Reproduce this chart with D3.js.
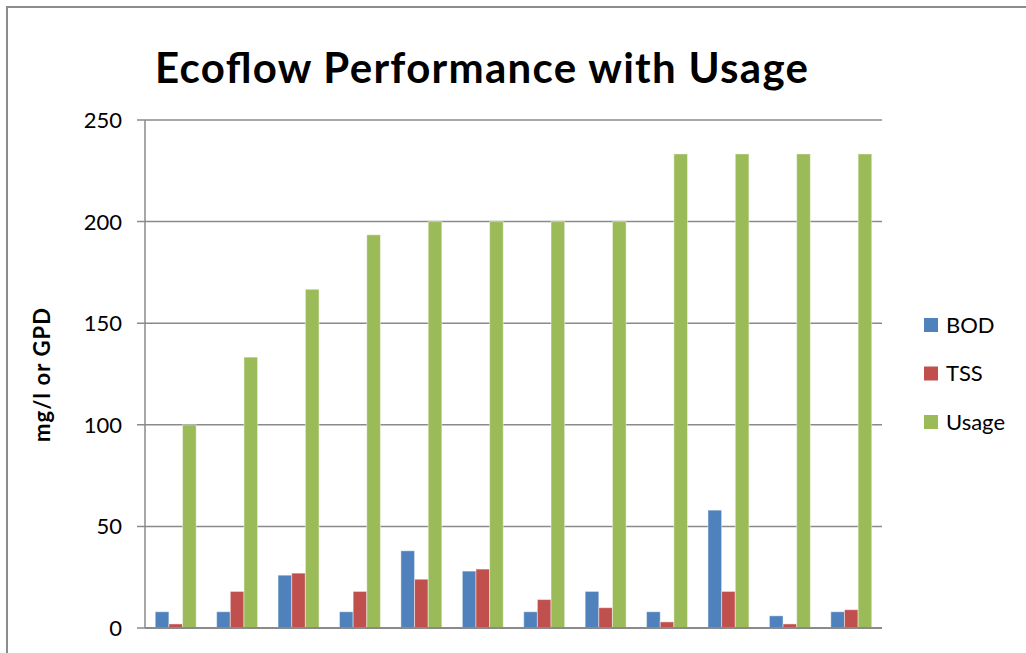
<!DOCTYPE html>
<html>
<head>
<meta charset="utf-8">
<script src="https://cdn.jsdelivr.net/npm/d3@7"></script>
<style>
  body { margin: 0; background: #fff; }
  svg { display: block; }
</style>
</head>
<body>
<div id="chart"></div>
<script>
// values
const categories = ['1', '2', '3', '4', '5', '6', '7', '8', '9', '10', '11', '12'];
const seriesNames = ['BOD', 'TSS', 'Usage'];
const bod = [8, 8, 26, 8, 38, 28, 8, 18, 8, 58, 6, 8];
const tss = [2, 18, 27, 18, 24, 29, 14, 10, 3, 18, 2, 9];
const usage = [100, 133.3, 166.7, 193.5, 200, 200, 200, 200, 233.3, 233.3, 233.3, 233.3];
const yTicks = [0, 50, 100, 150, 200, 250];
const colors = ['#4F81BD', '#C0504D', '#9BBB59'];

const width = 1026;
const height = 653;
const margin = { top: 120, right: 144, bottom: 25, left: 145 };
const font = 'Lato, "Open Sans", sans-serif';

const svg = d3.select('#chart').append('svg')
  .attr('width', width)
  .attr('height', height);

// chart area border (bottom and right run off the picture)
svg.append('path')
  .attr('d', `M7,${height + 2} L7,7 L${width + 2},7`)
  .attr('fill', 'none')
  .attr('stroke', '#8c8c8c')
  .attr('stroke-width', 2);

const x = d3.scaleBand()
  .domain(categories)
  .range([margin.left, width - margin.right]);

const y = d3.scaleLinear()
  .domain([0, 250])
  .range([height - margin.bottom, margin.top]);

// gridlines
svg.append('g')
  .selectAll('line')
  .data(yTicks)
  .join('line')
  .attr('x1', margin.left - 8)
  .attr('x2', width - margin.right)
  .attr('y1', d => y(d))
  .attr('y2', d => y(d))
  .attr('stroke', '#8a8a8a')
  .attr('stroke-width', 1.5);

// y axis line
svg.append('line')
  .attr('x1', margin.left).attr('x2', margin.left)
  .attr('y1', y(250)).attr('y2', y(0))
  .attr('stroke', '#8a8a8a')
  .attr('stroke-width', 1.5);

svg.append('g')
  .selectAll('text')
  .data(yTicks)
  .join('text')
  .attr('x', 122)
  .attr('y', d => y(d))
  .attr('dy', '0.36em')
  .attr('text-anchor', 'end')
  .attr('font-family', font)
  .attr('font-size', 22)
  .attr('fill', '#000')
  .text(d => d);

// bars: three per category, 150% gap width
const rows = categories.map((c, i) => ({ cat: c, vals: [bod[i], tss[i], usage[i]] }));
const barW = x.bandwidth() / 4.5;

const groups = svg.append('g')
  .selectAll('g')
  .data(rows)
  .join('g')
  .attr('transform', d => `translate(${x(d.cat) + barW * 0.75},0)`);

groups.selectAll('rect')
  .data(d => d.vals.map((v, k) => ({ v, k })))
  .join('rect')
  .attr('x', d => d.k * barW)
  .attr('width', barW)
  .attr('y', d => y(d.v))
  .attr('height', d => y(0) - y(d.v))
  .attr('fill', d => colors[d.k])
  .attr('stroke', 'rgba(255,255,255,0.45)')
  .attr('stroke-width', 1);

// bottom axis line over bars
svg.append('line')
  .attr('x1', margin.left).attr('x2', width - margin.right)
  .attr('y1', y(0)).attr('y2', y(0))
  .attr('stroke', '#8a8a8a')
  .attr('stroke-width', 2);

// title
svg.append('text')
  .attr('x', 155)
  .attr('y', 83)
  .attr('font-family', font)
  .attr('font-weight', 'bold')
  .attr('font-size', 42)
  .attr('textLength', 653)
  .attr('fill', '#000')
  .text('Ecoflow Performance with Usage');

// y axis title
svg.append('text')
  .attr('transform', `translate(42,442) rotate(-90)`)
  .attr('dy', '0.35em')
  .attr('font-family', font)
  .attr('font-weight', 'bold')
  .attr('font-size', 22)
  .attr('textLength', 134)
  .attr('fill', '#000')
  .text('mg/l or GPD');

// legend
const legend = svg.append('g')
  .selectAll('g')
  .data(seriesNames)
  .join('g')
  .attr('transform', (d, i) => `translate(924,${325 + i * 48.5})`);

legend.append('rect')
  .attr('x', 0)
  .attr('y', -7)
  .attr('width', 14)
  .attr('height', 14)
  .attr('fill', (d, i) => colors[i]);

legend.append('text')
  .attr('x', 22)
  .attr('dy', '0.36em')
  .attr('font-family', font)
  .attr('font-size', 22)
  .attr('fill', '#000')
  .text(d => d);
</script>
</body>
</html>
